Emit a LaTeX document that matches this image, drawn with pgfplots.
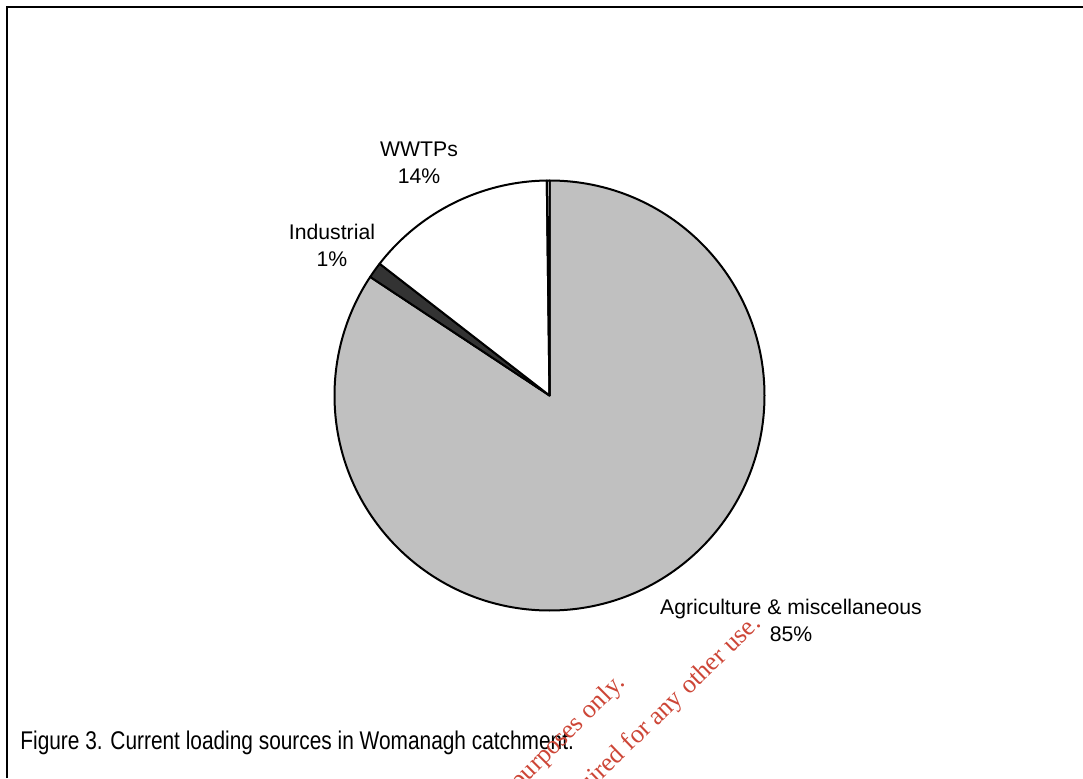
\documentclass[border=0pt]{standalone}
\usepackage{pgfplots}
\pgfplotsset{compat=1.18}
\usepackage{fontspec}
\setmainfont{Liberation Sans}
\newfontfamily\wmfont{Liberation Serif}
\definecolor{piegray}{RGB}{192,192,192}
\definecolor{piedark}{RGB}{51,51,51}
\definecolor{wmred}{RGB}{205,70,55}
\begin{document}
\begin{tikzpicture}
\begin{axis}[
  x=0.5pt, y=0.5pt,
  xmin=0, xmax=1083, ymin=0, ymax=778,
  axis lines=none, ticks=none,
  clip=true,
]
% frame
\draw[line width=1.3pt] (axis cs:7,0) -- (axis cs:7,771) -- (axis cs:1083,771);
% pie: values (percent), clockwise from 12 o'clock
\pgfplotsextra{%
  \gdef\startang{90}%
  \foreach \v/\c in {84.3/piegray, 1.2/piedark, 14.3/white, 0.2/white}{%
    \pgfmathsetmacro\endang{\startang-3.6*\v}%
    \filldraw[fill=\c, draw=black, line width=1pt, line join=round]
      (axis cs:549.5,382.5) -- ([shift={(\startang:107.5pt)}]axis cs:549.5,382.5)
      arc[start angle=\startang, end angle=\endang, radius=107.5pt] -- cycle;%
    \xdef\startang{\endang}%
  }%
}
\node[align=center, font=\fontsize{10.6}{13.5}\selectfont] at (axis cs:419,615) {WWTPs\\14\%};
\node[align=center, font=\fontsize{10.6}{13.5}\selectfont] at (axis cs:332,533) {Industrial\\1\%};
\node[align=center, font=\fontsize{10.6}{13.5}\selectfont] at (axis cs:791,158) {Agriculture \& miscellaneous\\85\%};
\node[anchor=west, inner sep=0pt] at (axis cs:20,35) {\scalebox{0.815}[1]{\fontsize{12.8}{15}\selectfont Figure 3. Current loading sources in Womanagh catchment.}};
% watermark
\node[anchor=base east, rotate=45, inner sep=0pt, text=wmred, font=\wmfont\fontsize{13}{15}\selectfont] at (axis cs:626,94) {For inspection purposes only.};
\node[anchor=base east, rotate=44, inner sep=0pt, text=wmred, font=\wmfont\fontsize{13}{15}\selectfont] at (axis cs:762,153) {Consent of copyright owner required for any other use.};
\end{axis}
\pgfresetboundingbox
\path[use as bounding box] (current axis.south west) rectangle (current axis.north east);
\end{tikzpicture}
\end{document}
